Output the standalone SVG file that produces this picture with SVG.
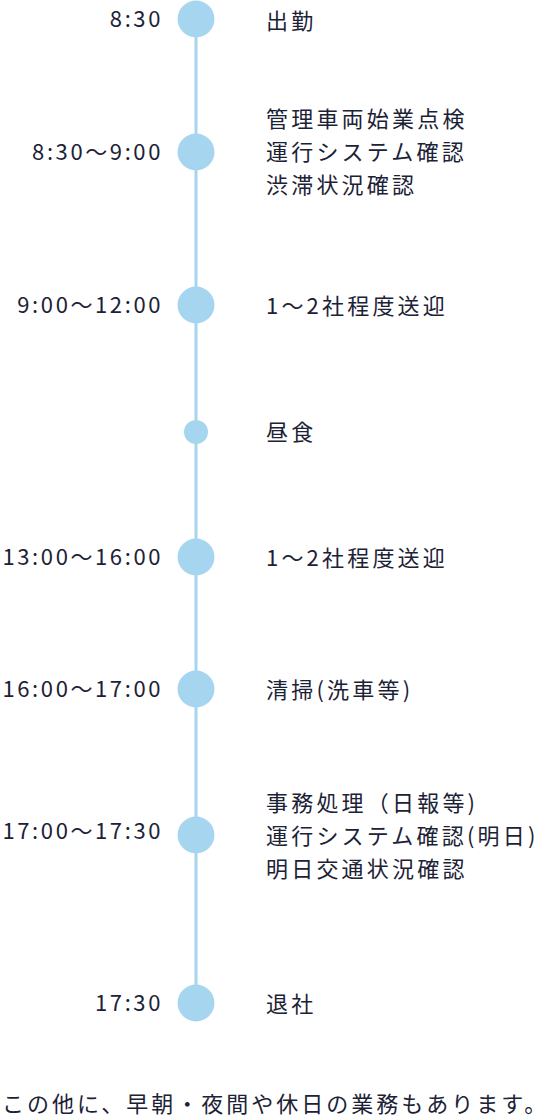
<svg xmlns="http://www.w3.org/2000/svg" width="551" height="1119" viewBox="0 0 551 1119">
<style>
.t{font-family:"Noto Sans CJK JP","Noto Sans",sans-serif;font-size:22px;fill:#1c2236;letter-spacing:2.6px;text-anchor:end}
.l{font-family:"Noto Sans CJK JP","Noto Sans",sans-serif;font-size:22px;fill:#1c2236;letter-spacing:3.2px}
.d{fill:#a6d6ef}
.n{font-family:"Noto Sans CJK JP","Noto Sans",sans-serif;font-size:22px;fill:#1c2236;letter-spacing:3px}
</style>
<rect width="551" height="1119" fill="#ffffff"/>
<g id="connectors">
<line x1="196" y1="19" x2="196" y2="1003" stroke="#a6d6ef" stroke-width="3"/>
</g>
<g id="n1"><circle class="d" cx="196" cy="19" r="18.5"/><text class="t" x="163" y="27">8:30</text><text class="l" x="266" y="29">出勤</text></g>
<g id="n2"><circle class="d" cx="196" cy="152" r="18.5"/><text class="t" x="163" y="160">8:30～9:00</text><text class="l" x="266" y="127">管理車両始業点検</text><text class="l" x="266" y="160">運行システム確認</text><text class="l" x="266" y="193">渋滞状況確認</text></g>
<g id="n3"><circle class="d" cx="196" cy="305" r="18.5"/><text class="t" x="163" y="313">9:00～12:00</text><text class="l" x="266" y="314">1～2社程度送迎</text></g>
<g id="n4"><circle class="d" cx="196" cy="432" r="12"/><text class="l" x="266" y="440">昼食</text></g>
<g id="n5"><circle class="d" cx="196" cy="557" r="18.5"/><text class="t" x="163" y="565">13:00～16:00</text><text class="l" x="266" y="566">1～2社程度送迎</text></g>
<g id="n6"><circle class="d" cx="196" cy="689" r="18.5"/><text class="t" x="163" y="697">16:00～17:00</text><text class="l" x="266" y="698">清掃(洗車等)</text></g>
<g id="n7"><circle class="d" cx="196" cy="835" r="18.5"/><text class="t" x="163" y="839">17:00～17:30</text><text class="l" x="266" y="811">事務処理（日報等)</text><text class="l" x="266" y="844">運行システム確認(明日)</text><text class="l" x="266" y="877">明日交通状況確認</text></g>
<g id="n8"><circle class="d" cx="196" cy="1003" r="18.5"/><text class="t" x="163" y="1011">17:30</text><text class="l" x="266" y="1012">退社</text></g>
<g id="note"><text class="n" x="2" y="1112">この他に、早朝・夜間や休日の業務もあります。</text></g>
</svg>
